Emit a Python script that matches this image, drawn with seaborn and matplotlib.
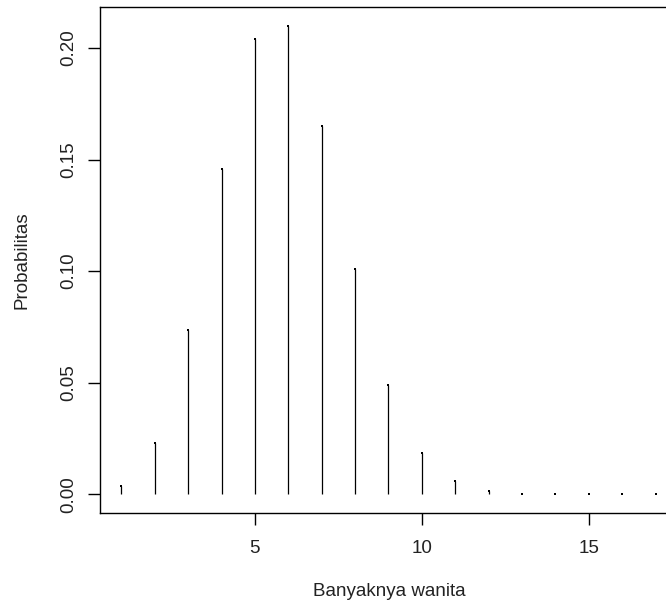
import numpy as np
import pandas as pd
import seaborn as sns
import matplotlib
matplotlib.use("Agg")
import matplotlib.pyplot as plt

# Data
x_values = [1, 2, 3, 4, 5, 6, 7, 8, 9, 10, 11, 12, 13, 14, 15, 16, 17]
probabilities = [0.0036, 0.0229, 0.0737, 0.146, 0.204, 0.210, 0.165, 0.101,
                 0.049, 0.0184, 0.0058, 0.0013, 0.0002, 0.00003, 0.000003,
                 0.0000002, 0.00000001]
x_ticks = [5, 10, 15]
y_ticks = [0.00, 0.05, 0.10, 0.15, 0.20]
y_tick_labels = ["0.00", "0.05", "0.10", "0.15", "0.20"]
x_label = "Banyaknya wanita"
y_label = "Probabilitas"

df = pd.DataFrame({"x": x_values, "p": probabilities})

sns.set_theme(style="ticks")
plt.rcParams["font.family"] = ["Liberation Sans", "DejaVu Sans"]

W, H = 666, 608
fig = plt.figure(figsize=(W / 100, H / 100), dpi=100)
left, right, top, bottom = 100, 677, 7, 513
ax = fig.add_axes([left / W, (H - bottom) / H, (right - left) / W, (bottom - top) / H])

ax.vlines(df["x"], 0, df["p"], colors="black", linewidth=0.9)
# R's type="h" leaves a dot even for near-zero heights
sns.scatterplot(data=df, x="x", y="p", ax=ax, marker="s", s=1.2, color="black",
                linewidth=0, legend=False)

ax.set_xlim(0.36, 17.64)
ax.set_ylim(-0.0084, 0.2184)
ax.set_xticks(x_ticks)
ax.set_xticklabels([str(t) for t in x_ticks])
ax.set_yticks(y_ticks)
ax.set_yticklabels(y_tick_labels, rotation=90, va="center")

for s in ax.spines.values():
    s.set_visible(True)
    s.set_color("black")
    s.set_linewidth(1.0)

ax.tick_params(axis="both", which="major", length=8.5, width=1.0, color="black",
               labelsize=13.5, labelcolor="#222222")
ax.tick_params(axis="x", pad=11)
ax.tick_params(axis="y", pad=8)

ax.set_xlabel(x_label, fontsize=13.5, color="#222222")
ax.set_ylabel(y_label, fontsize=13.5, color="#222222")
ax.yaxis.label.set_va("center")
ax.xaxis.set_label_coords((389 - left) / (right - left), -(583 - bottom) / (bottom - top))
ax.yaxis.set_label_coords(-(100 - 22) / (right - left), 0.5)

fig.savefig("out.png", dpi=100)
